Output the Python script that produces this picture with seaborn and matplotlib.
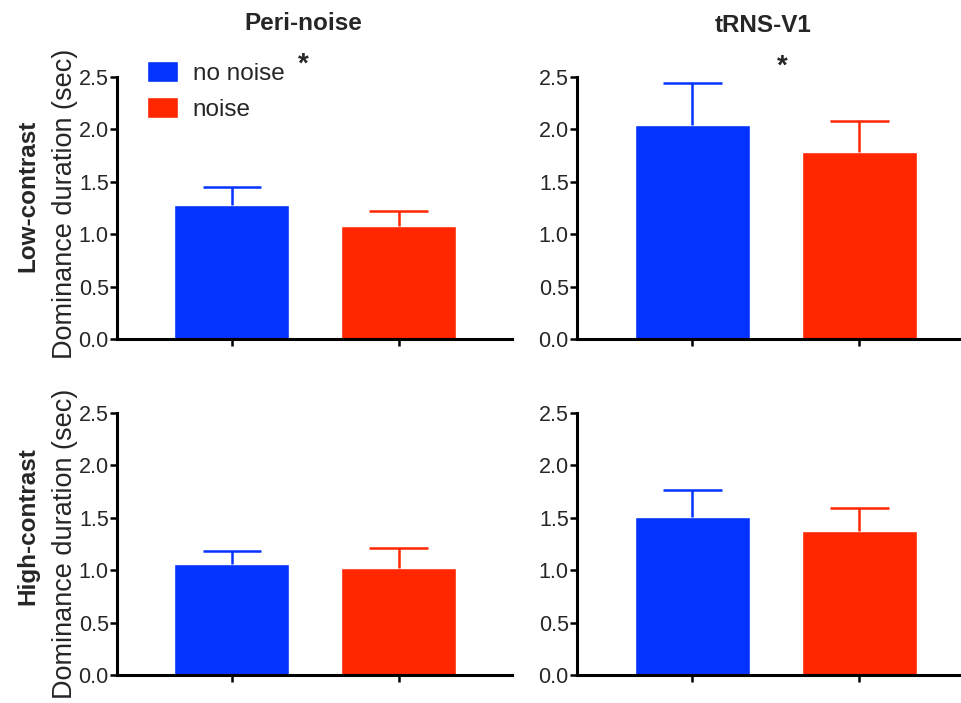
import numpy as np
import pandas as pd
import matplotlib
matplotlib.use("Agg")
import matplotlib.pyplot as plt
from matplotlib.patches import Patch
import seaborn as sns

# datos (media y error típico)
conditions = ["no noise", "noise"]
col_titles = ["Peri-noise", "tRNS-V1"]
row_titles = ["Low-contrast", "High-contrast"]

low_peri_mean = [1.28, 1.08]
low_peri_err = [0.17, 0.14]
low_trns_mean = [2.04, 1.78]
low_trns_err = [0.40, 0.30]
high_peri_mean = [1.06, 1.02]
high_peri_err = [0.12, 0.19]
high_trns_mean = [1.51, 1.37]
high_trns_err = [0.26, 0.22]

yticks = [0.0, 0.5, 1.0, 1.5, 2.0, 2.5]
colores = ["#0433FF", "#FF2600"]

sns.set_style("ticks")
plt.rcParams["font.family"] = ["Liberation Sans", "DejaVu Sans"]

fig = plt.figure(figsize=(9.61, 7.03), dpi=100)

def px(x, y):
    return x / 961, 1 - y / 703

# posiciones de los ejes en pixeles (x0, y_top, ancho, alto)
posiciones = [
    [(117, 77, 395, 262), (577, 77, 396, 262)],
    [(117, 413, 395, 262), (577, 413, 396, 262)],
]
medias = [[low_peri_mean, low_trns_mean], [high_peri_mean, high_trns_mean]]
errores = [[low_peri_err, low_trns_err], [high_peri_err, high_trns_err]]

axes = []
for r in range(2):
    for c in range(2):
        x0, yt, w, h = posiciones[r][c]
        ax = fig.add_axes([x0 / 961, 1 - (yt + h) / 703, w / 961, h / 703])
        df = pd.DataFrame({"cond": conditions, "valor": medias[r][c]})
        sns.barplot(data=df, x="cond", y="valor", hue="cond", palette=colores,
                    width=0.69, legend=False, ax=ax, saturation=1)
        # solo la parte superior del error, con su tope
        for i in range(2):
            m = medias[r][c][i]
            e = errores[r][c][i]
            ax.vlines(i, m, m + e, color=colores[i], linewidth=1.8, zorder=1)
            ax.hlines(m + e, i - 0.175, i + 0.175, color=colores[i], linewidth=1.8, zorder=1)
        ax.set_xlim(-0.69, 1.68)
        ax.set_ylim(0, 2.5)
        ax.set_yticks(yticks)
        ax.set_yticklabels([f"{t:.1f}" for t in yticks])
        ax.set_xticks([0, 1])
        ax.set_xticklabels([])
        ax.set_xlabel("")
        ax.set_ylabel("")
        for s in ["top", "right"]:
            ax.spines[s].set_visible(False)
        for s in ["left", "bottom"]:
            ax.spines[s].set_linewidth(2.2)
            ax.spines[s].set_color("black")
        ax.tick_params(axis="both", direction="out", length=5, width=1.8,
                       color="black", labelsize=15.5, pad=1)
        ax.set_axisbelow(False)
        axes.append(ax)

# leyenda en el primer panel
handles = [Patch(facecolor=colores[0]), Patch(facecolor=colores[1])]
axes[0].legend(handles, conditions, loc="upper left", bbox_to_anchor=(0.075, 1.06),
               frameon=False, fontsize=17.5, handlelength=1.3, handleheight=0.95,
               handletextpad=0.6, labelspacing=0.5, borderpad=0, borderaxespad=0)

# asteriscos de significación
axes[0].text(0.43, 2.62, "*", ha="center", va="center", fontsize=20,
             fontweight="bold", clip_on=False)
axes[1].text(0.54, 2.60, "*", ha="center", va="center", fontsize=20,
             fontweight="bold", clip_on=False)

# títulos de columnas y filas
fig.text(*px(303, 23), col_titles[0], ha="center", va="center",
         fontsize=17.5, fontweight="bold")
fig.text(*px(763, 25), col_titles[1], ha="center", va="center",
         fontsize=17.5, fontweight="bold")
fig.text(*px(28, 196), row_titles[0], ha="center", va="center", rotation=90,
         fontsize=17.5, fontweight="bold")
fig.text(*px(28, 526), row_titles[1], ha="center", va="center", rotation=90,
         fontsize=17.5, fontweight="bold")
fig.text(*px(65, 204), "Dominance duration (sec)", ha="center", va="center",
         rotation=90, fontsize=19.5)
fig.text(*px(65, 544), "Dominance duration (sec)", ha="center", va="center",
         rotation=90, fontsize=19.5)

fig.savefig("out.png", dpi=100)
